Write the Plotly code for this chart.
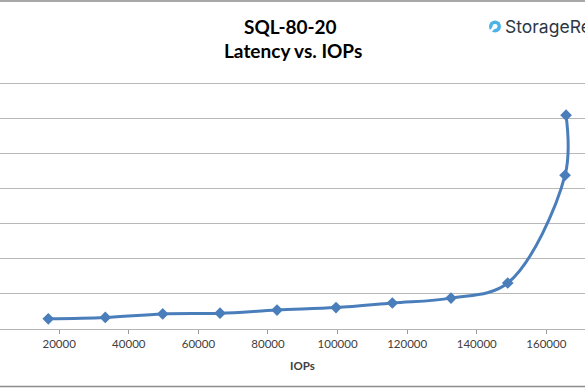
import plotly.graph_objects as go

# ---- data ----
iops = [16870, 33250, 49750, 66220, 82600, 99550, 115740, 132600, 148900, 165370, 165660]
latency_ms = [0.29, 0.33, 0.43, 0.45, 0.54, 0.61, 0.74, 0.88, 1.31, 4.38, 6.09]
x_tick_values = [20000, 40000, 60000, 80000, 100000, 120000, 140000, 160000]
x_tick_labels = ["20000", "40000", "60000", "80000", "100000", "120000", "140000", "160000"]
title_line1 = "SQL-80-20"
title_line2 = "Latency vs. IOPs"
x_title = "IOPs"

W, H = 585, 390
Y_MAX = 7.15
PLOT_BOTTOM = 329.3
PLOT_TOP = PLOT_BOTTOM - 35.19 * Y_MAX

def py(p):  # pixel y -> paper y
    return (PLOT_BOTTOM - p) / (PLOT_BOTTOM - PLOT_TOP)

def px(p):  # pixel x -> paper x
    return p / W

blue = "#4A7EBB"

fig = go.Figure()
fig.add_trace(go.Scatter(
    x=iops, y=latency_ms, mode="lines+markers",
    line=dict(color=blue, width=3, shape="spline", smoothing=1),
    marker=dict(symbol="diamond", size=9, color=blue),
    hoverinfo="x+y", showlegend=False,
))

fig.update_layout(
    width=W, height=H,
    margin=dict(l=0, r=0, t=PLOT_TOP, b=H - PLOT_BOTTOM),
    paper_bgcolor="white", plot_bgcolor="white",
    font=dict(family="Lato, 'Open Sans', sans-serif", color="#404040"),
    xaxis=dict(
        range=[2990, 171100], showgrid=False, zeroline=False,
        tickmode="array", tickvals=x_tick_values, ticktext=x_tick_labels,
        ticks="outside", ticklen=4, tickcolor="#999999", tickwidth=1,
        showline=True, linecolor="#b3b3b3", linewidth=1,
        tickfont=dict(size=11.5, color="#404040"),
    ),
    yaxis=dict(
        range=[0, Y_MAX], dtick=1, showgrid=True, gridcolor="#b8b8b8", gridwidth=1,
        zeroline=False, showticklabels=False, showline=False,
    ),
)

# chart border (left/right edges are cropped off in the reference)
fig.add_shape(type="rect", xref="paper", yref="paper",
              x0=px(-5), x1=px(W + 5), y0=py(387), y1=py(0.5),
              line=dict(color="#8c8c8c", width=1.5), fillcolor="rgba(0,0,0,0)", layer="below")

# titles
fig.add_annotation(text="<b>%s</b>" % title_line1, xref="paper", yref="paper",
                   x=px(290), y=py(26), xanchor="center", yanchor="middle",
                   showarrow=False, font=dict(size=19, color="#000000"))
fig.add_annotation(text="<b>%s</b>" % title_line2, xref="paper", yref="paper",
                   x=px(293), y=py(50), xanchor="center", yanchor="middle",
                   showarrow=False, font=dict(size=19, color="#000000"))
fig.add_annotation(text="<b>%s</b>" % x_title, xref="paper", yref="paper",
                   x=px(302), y=py(366), xanchor="center", yanchor="middle",
                   showarrow=False, font=dict(size=11.5, color="#404040"))

# StorageReview logo
fig.add_shape(type="circle", xref="paper", yref="paper",
              x0=px(489), x1=px(501), y0=py(32), y1=py(20),
              line=dict(width=0), fillcolor="#4DB3E6")
fig.add_shape(type="circle", xref="paper", yref="paper",
              x0=px(492.5), x1=px(497.5), y0=py(28.5), y1=py(23.5),
              line=dict(width=0), fillcolor="white")
fig.add_shape(type="line", xref="paper", yref="paper",
              x0=px(494), x1=px(490.5), y0=py(27), y1=py(31),
              line=dict(width=2.5, color="white"))
fig.add_annotation(text="StorageReview", xref="paper", yref="paper",
                   x=px(503), y=py(26), xanchor="left", yanchor="middle",
                   showarrow=False, font=dict(family="Inter, 'Open Sans', sans-serif", size=17.5, color="#2b3745"))

fig.write_html("out.html", config={"displayModeBar": False},
               post_script="document.body.style.margin='0';")
